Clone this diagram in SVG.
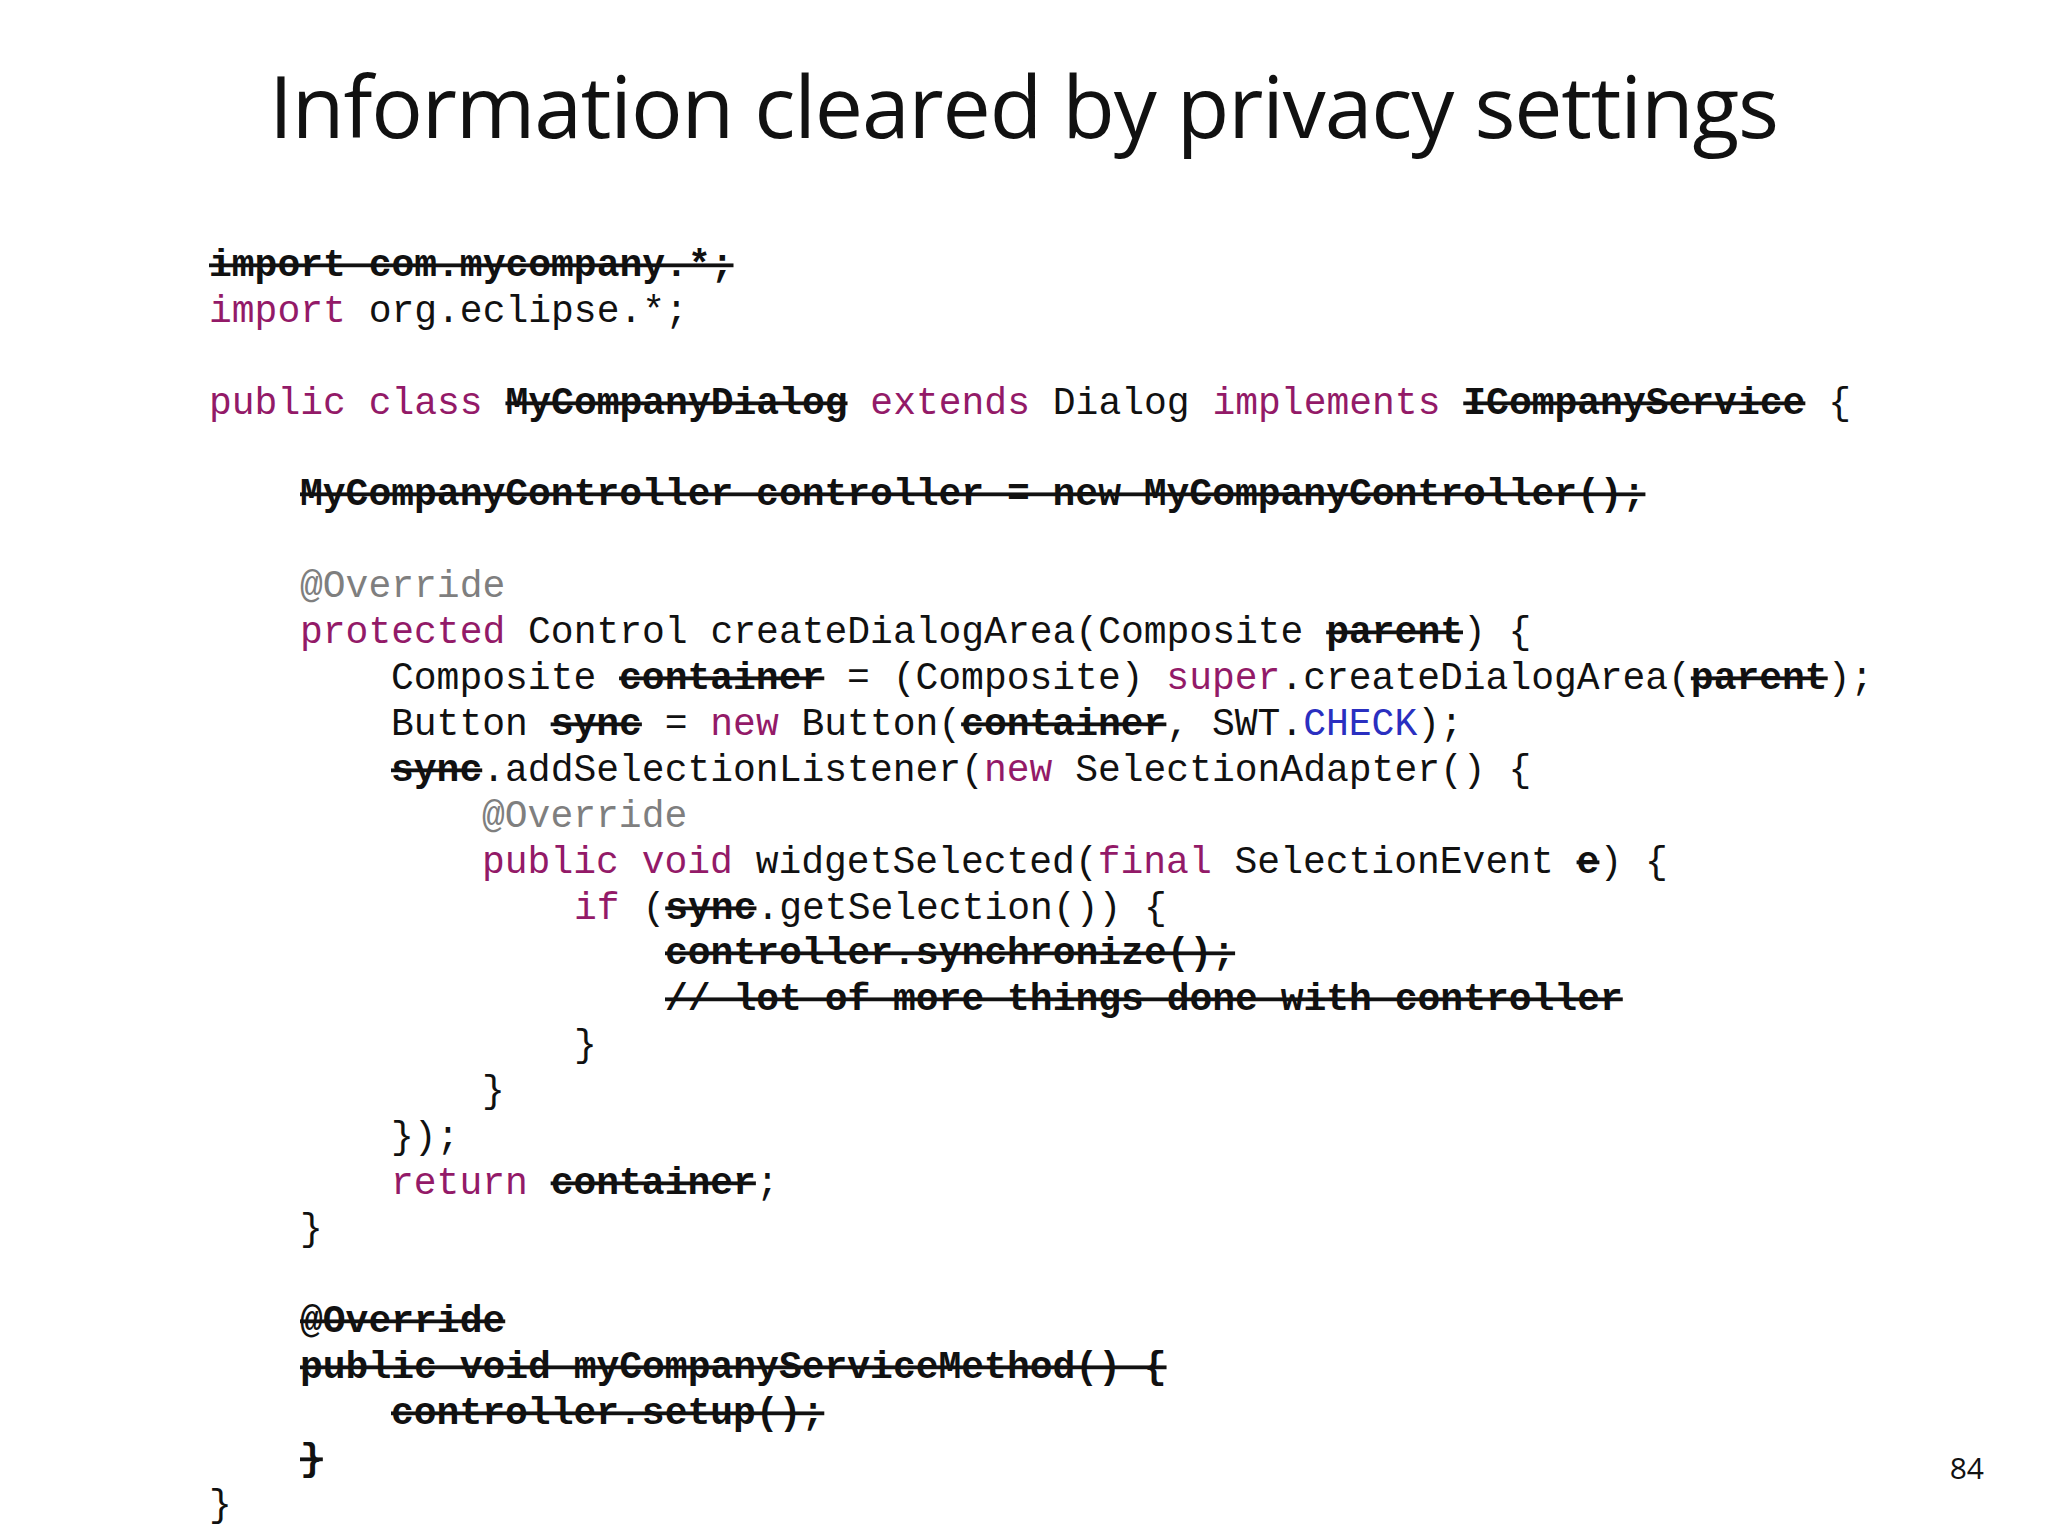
<svg xmlns="http://www.w3.org/2000/svg" width="2048" height="1536" viewBox="0 0 2048 1536">
<style>
.t{font-family:"Liberation Mono","DejaVu Sans Mono",monospace;font-size:38px;fill:#111}
.k{fill:#931a68}
.a{fill:#7f7f7f}
.c{fill:#2a2fc0}
.s{font-weight:bold;text-decoration:line-through;fill:#111}
</style>
<rect width="2048" height="1536" fill="#fff"/>
<text x="1024" y="138" text-anchor="middle" font-family="Open Sans, Liberation Sans, sans-serif" font-size="86" textLength="1510" fill="#111">Information cleared by privacy settings</text>
<text x="1984" y="1479" text-anchor="end" font-family="Open Sans, Liberation Sans, sans-serif" font-size="30" fill="#111">84</text>
<g id="code" class="t" xml:space="preserve">
<text x="209" y="276"><tspan class="s">import com.mycompany.*;</tspan></text>
<text x="209" y="322"><tspan class="k">import</tspan> org.eclipse.*;</text>
<text x="209" y="414"><tspan class="k">public class</tspan> <tspan class="s">MyCompanyDialog</tspan> <tspan class="k">extends</tspan> Dialog <tspan class="k">implements</tspan> <tspan class="s">ICompanyService</tspan> {</text>
<text x="300" y="505"><tspan class="s">MyCompanyController controller = new MyCompanyController();</tspan></text>
<text x="300" y="597"><tspan class="a">@Override</tspan></text>
<text x="300" y="643"><tspan class="k">protected</tspan> Control createDialogArea(Composite <tspan class="s">parent</tspan>) {</text>
<text x="391" y="689">Composite <tspan class="s">container</tspan> = (Composite) <tspan class="k">super</tspan>.createDialogArea(<tspan class="s">parent</tspan>);</text>
<text x="391" y="735">Button <tspan class="s">sync</tspan> = <tspan class="k">new</tspan> Button(<tspan class="s">container</tspan>, SWT.<tspan class="c">CHECK</tspan>);</text>
<text x="391" y="781"><tspan class="s">sync</tspan>.addSelectionListener(<tspan class="k">new</tspan> SelectionAdapter() {</text>
<text x="482" y="827"><tspan class="a">@Override</tspan></text>
<text x="482" y="873"><tspan class="k">public void</tspan> widgetSelected(<tspan class="k">final</tspan> SelectionEvent <tspan class="s">e</tspan>) {</text>
<text x="574" y="919"><tspan class="k">if</tspan> (<tspan class="s">sync</tspan>.getSelection()) {</text>
<text x="665" y="964"><tspan class="s">controller.synchronize();</tspan></text>
<text x="665" y="1010"><tspan class="s">// lot of more things done with controller</tspan></text>
<text x="574" y="1056">}</text>
<text x="482" y="1102">}</text>
<text x="391" y="1148">});</text>
<text x="391" y="1194"><tspan class="k">return</tspan> <tspan class="s">container</tspan>;</text>
<text x="300" y="1240">}</text>
<text x="300" y="1332"><tspan class="s">@Override</tspan></text>
<text x="300" y="1378"><tspan class="s">public void myCompanyServiceMethod() {</tspan></text>
<text x="391" y="1424"><tspan class="s">controller.setup();</tspan></text>
<text x="300" y="1470"><tspan class="s">}</tspan></text>
<text x="209" y="1516">}</text>
</g>
</svg>
